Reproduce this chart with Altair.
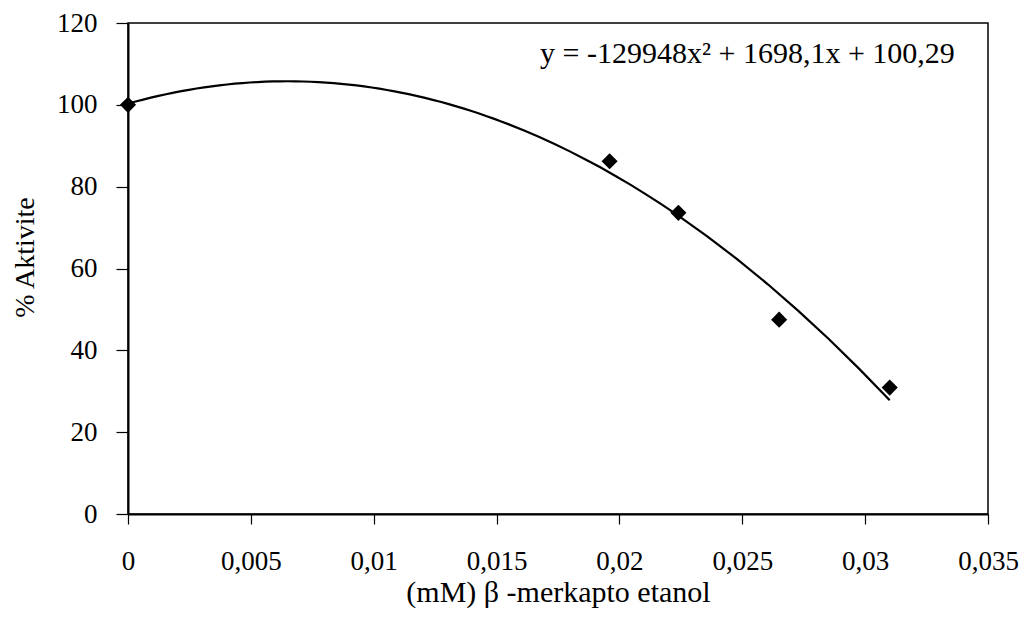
import altair as alt
import pandas as pd

conc = [0.0, 0.0196, 0.0224, 0.0265, 0.0310]
activity = [100.0, 86.2, 73.6, 47.5, 30.9]

x_ticks = [0, 0.005, 0.01, 0.015, 0.02, 0.025, 0.03, 0.035]
y_ticks = [0, 20, 40, 60, 80, 100, 120]

equation = ["y = -129948x\u00b2 + 1698,1x + 100,29"]
eq_x = [0.03365]
eq_y = [112.5]

df = pd.DataFrame({"x": conc, "y": activity})
eq_df = pd.DataFrame({"t": equation, "x": eq_x, "y": eq_y})

FONT = "Liberation Serif"

xscale = alt.Scale(domain=[0, 0.035], nice=False, zero=False)
yscale = alt.Scale(domain=[0, 120], nice=False)

xaxis = alt.Axis(
    title="(mM) \u03b2 -merkapto etanol",
    values=x_ticks,
    format=".3~f",
    labelExpr="replace(datum.label, '.', ',')",
    grid=False,
    tickSize=10,
    labelPadding=24,
    titlePadding=3,
    titleFontSize=30,
    labelFlush=False,
)
yaxis = alt.Axis(
    title="% Aktivite",
    values=y_ticks,
    grid=False,
    tickSize=12,
    labelPadding=19,
    titlePadding=17,
    titleFontSize=28,
    titleY=234,
    labelFlush=False,
)

points = alt.Chart(df).mark_point(
    shape="diamond", filled=True, color="black", size=260, opacity=1
).encode(
    x=alt.X("x:Q", scale=xscale, axis=xaxis),
    y=alt.Y("y:Q", scale=yscale, axis=yaxis),
)

trend = alt.Chart(df).transform_regression(
    "x", "y", method="poly", order=2, extent=[0, 0.031]
).mark_line(color="black", strokeWidth=2.2).encode(
    x=alt.X("x:Q", scale=xscale),
    y=alt.Y("y:Q", scale=yscale),
)

eq = alt.Chart(eq_df).mark_text(
    align="right", baseline="middle", font=FONT, fontSize=30, color="black"
).encode(
    x=alt.X("x:Q", scale=xscale),
    y=alt.Y("y:Q", scale=yscale),
    text="t:N",
)

chart = alt.layer(trend, points, eq).properties(
    width=860,
    height=491,
    autosize=alt.AutoSizeParams(type="none"),
    padding={"left": 120, "top": 15, "right": 38, "bottom": 104},
    background="white",
).configure_view(
    stroke="black", strokeWidth=1.5
).configure_axis(
    labelFont=FONT,
    titleFont=FONT,
    labelFontSize=27,
    titleFontWeight="normal",
    labelColor="black",
    titleColor="black",
    domainColor="black",
    tickColor="black",
    domainWidth=2,
    tickWidth=1.2,
)

chart.save("out.html", embed_options={"renderer": "svg", "actions": False})
